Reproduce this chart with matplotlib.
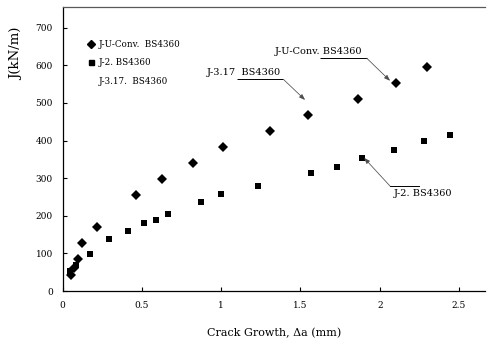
import matplotlib
matplotlib.use("Agg")
import matplotlib.pyplot as plt
from matplotlib.lines import Line2D

# J-R resistance data: crack growth (mm) vs J (kN/m)
da_uconv = [0.05, 0.07, 0.095, 0.12, 0.22, 0.465, 0.625, 0.82, 1.01, 1.31,
            1.55, 1.86, 2.10, 2.30]
j_uconv = [42, 62, 85, 127, 171, 256, 298, 341, 383, 425, 468, 511, 554, 596]

da_j2 = [0.045, 0.085, 0.17, 0.29, 0.41, 0.515, 0.59, 0.665, 0.875, 1.0,
         1.235, 1.565, 1.73, 1.89, 2.09, 2.28, 2.445]
j_j2 = [52, 70, 98, 138, 160, 182, 188, 204, 236, 258, 280, 314, 330, 354,
        376, 399, 416]

x_ticks = [0, 0.5, 1, 1.5, 2, 2.5]
x_tick_labels = ["0", "0.5", "1", "1.5", "2", "2.5"]
y_ticks = [0, 100, 200, 300, 400, 500, 600, 700]

legend_labels = ["J-U-Conv.  BS4360", "J-2. BS4360", "J-3.17.  BS4360"]

plt.rcParams["font.family"] = ["DejaVu Serif"]

fig = plt.figure(figsize=(4.89, 3.38), dpi=100)
ax = fig.add_axes([0.128, 0.139, 0.864, 0.840])

ax.plot(da_uconv, j_uconv, linestyle="none", marker="D", markersize=4.8,
        color="black", markeredgewidth=0)
ax.plot(da_j2, j_j2, linestyle="none", marker="s", markersize=4.3,
        color="black", markeredgewidth=0)

ax.set_xlim(0, 2.664)
ax.set_ylim(0, 755)
ax.set_xticks(x_ticks)
ax.set_xticklabels(x_tick_labels)
ax.set_yticks(y_ticks)
ax.tick_params(direction="in", length=3, width=0.8, labelsize=6.5, pad=7,
               colors="black")
for side in ("left", "bottom", "top"):
    ax.spines[side].set_linewidth(0.9)
ax.spines["top"].set_color("0.35")
ax.spines["right"].set_visible(False)

ax.set_xlabel("Crack Growth, \u0394a (mm)", fontsize=8, labelpad=13)
ax.set_ylabel("J(kN/m)", fontsize=9.5)
ax.yaxis.set_label_coords(-0.093, 0.835)

handles = [
    Line2D([], [], linestyle="none", marker="D", markersize=4, color="black"),
    Line2D([], [], linestyle="none", marker="s", markersize=3.6, color="black"),
    Line2D([], [], linestyle="none", marker=None, color="none"),
]
ax.legend(handles, legend_labels, loc="upper left",
          bbox_to_anchor=(0.062, 0.885), frameon=False, fontsize=6.3,
          handlelength=0.6, handletextpad=0.5, labelspacing=1.08,
          borderpad=0, borderaxespad=0)


def leader(text, text_xy, line_x, line_y, tip, va="baseline"):
    """Label with a short rule under it and an arrow to the target."""
    ax.text(text_xy[0], text_xy[1], text, fontsize=7, ha="left", va=va)
    ax.plot(line_x, [line_y, line_y], color="black", lw=0.7,
            solid_capstyle="butt")
    ax.annotate("", xy=tip, xytext=(line_x[-1], line_y),
                arrowprops=dict(arrowstyle="-|>,head_length=0.35,head_width=0.13",
                                lw=0.55, color="0.3", shrinkA=0, shrinkB=0))


leader("J-U-Conv. BS4360", (1.34, 630), (1.624, 1.918), 619, (2.065, 559))
leader("J-3.17  BS4360", (0.909, 574), (1.098, 1.392), 563, (1.529, 508))

# J-2 label sits below its rule; the arrow leaves from the rule's left end
ax.text(2.09, 253, "J-2. BS4360", fontsize=7, ha="left", va="baseline")
ax.plot((2.065, 2.25), [279, 279], color="black", lw=0.7)
ax.annotate("", xy=(1.901, 354), xytext=(2.065, 279),
            arrowprops=dict(arrowstyle="-|>,head_length=0.35,head_width=0.13",
                            lw=0.55, color="0.3", shrinkA=0, shrinkB=0))

fig.savefig("out.png", dpi=100)
